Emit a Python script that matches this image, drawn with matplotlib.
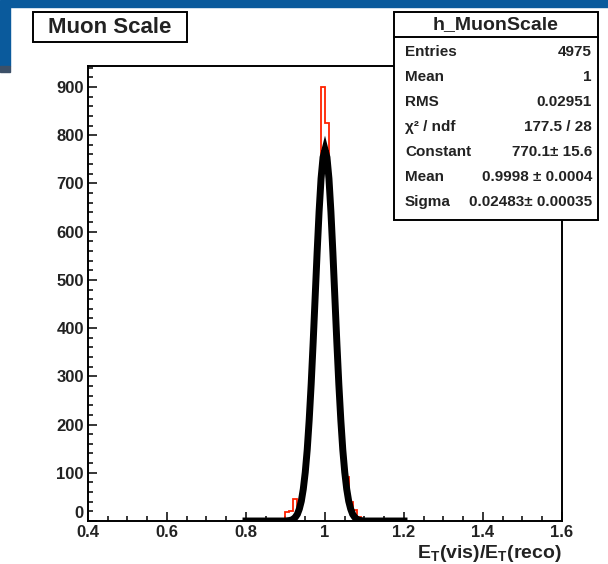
import numpy as np
import matplotlib
matplotlib.use("Agg")
import matplotlib.pyplot as plt
from matplotlib.patches import Rectangle

plt.rcParams['font.family'] = ['Liberation Sans', 'DejaVu Sans']
plt.rcParams['font.weight'] = 'bold'
plt.rcParams['mathtext.fontset'] = 'custom'
plt.rcParams['mathtext.rm'] = 'Liberation Sans:bold'
plt.rcParams['mathtext.bf'] = 'Liberation Sans:bold'

# histogram h_MuonScale, bins of 0.01 starting at 0.85
bin_low = 0.85
bin_width = 0.01
counts = [1, 0, 1, 2, 4, 18, 20, 45, 25, 66, 148, 284, 463, 641, 900,
          826, 641, 463, 284, 148, 92, 40, 22, 8, 3, 1, 0, 1, 0, 0]

# gaussian fit curve (drawn over the fit range 0.8 - 1.2)
fit_x = [0.80, 0.85, 0.90, 0.905, 0.91, 0.915, 0.92, 0.925, 0.93, 0.935,
         0.94, 0.945, 0.95, 0.955, 0.96, 0.965, 0.97, 0.975, 0.98, 0.985,
         0.99, 0.995, 1.00, 1.005, 1.01, 1.015, 1.02, 1.025, 1.03, 1.035,
         1.04, 1.045, 1.05, 1.055, 1.06, 1.065, 1.07, 1.075, 1.08, 1.085,
         1.09, 1.095, 1.10, 1.15, 1.20]
fit_y = [0, 0, 0, 0.5, 1, 2, 4, 8, 14, 25,
         41, 66, 101, 148, 210, 284, 370, 463, 556, 641,
         710, 754, 770, 754, 710, 641, 556, 463, 370, 284,
         210, 148, 101, 66, 41, 25, 14, 8, 4, 2,
         1, 0.5, 0, 0, 0]

stat_labels = ["Entries", "Mean", "RMS", "\u03c7\u00b2 / ndf", "Constant", "Mean", "Sigma"]
stat_values = ["4975", "1", "0.02951", "177.5 / 28", "770.1\u00b1 15.6",
               "0.9998 \u00b1 0.0004", "0.02483\u00b1 0.00035"]

W, H = 608, 564
fig = plt.figure(figsize=(W / 100, H / 100), dpi=100)


def fx(x):
    return x / W


def fy(y):
    return 1 - y / H


# slide background bits
fig.patches.append(Rectangle((0, fy(7)), 1, 7 / H, transform=fig.transFigure,
                             color='#0a5a9c', zorder=0))
fig.patches.append(Rectangle((0, fy(66)), fx(10), 59 / H, transform=fig.transFigure,
                             color='#0a5a9c', zorder=0))
fig.patches.append(Rectangle((0, fy(72)), fx(10), 6 / H, transform=fig.transFigure,
                             color='#3c5068', zorder=0))

ax = fig.add_axes([fx(88), fy(521), (562 - 88) / W, (521 - 66) / H])

edges = bin_low + bin_width * np.arange(len(counts) + 1)
ax.stairs(counts, edges, color='#ff2200', linewidth=1.3, zorder=2)
ax.plot(fit_x, fit_y, color='black', linewidth=5, zorder=3,
        solid_joinstyle='miter')

ax.set_xlim(0.4, 1.6)
ax.set_ylim(0, 943.5)
ax.set_xticks(np.arange(0.4, 1.61, 0.2))
ax.set_xticks(np.arange(0.4, 1.61, 0.05), minor=True)
ax.set_yticks(np.arange(0, 901, 100))
ax.set_yticks(np.arange(0, 941, 20), minor=True)
ax.set_xticklabels(["0.4", "0.6", "0.8", "1", "1.2", "1.4", "1.6"])
ax.tick_params(which='both', direction='in', width=1.1, labelsize=12, colors='black')
ax.tick_params(which='major', length=6.5)
ax.tick_params(which='minor', length=3.5)
ax.tick_params(axis='x', pad=3)
ax.tick_params(axis='y', pad=3)
for lab in ax.get_xticklabels() + ax.get_yticklabels():
    lab.set_fontweight('bold')
    lab.set_color('#222222')
# the zero label sits a little high so it clears 0.4 below it
ax.get_yticklabels()[0].set_verticalalignment('bottom')
for sp in ax.spines.values():
    sp.set_linewidth(1.4)

fig.text(fx(562), fy(558), r"E$_{\mathbf{T}}$(vis)/E$_{\mathbf{T}}$(reco)",
         ha='right', va='baseline', fontsize=14, fontweight='bold', color='#222222')

# title box
fig.patches.append(Rectangle((fx(33), fy(42)), (187 - 33) / W, 30 / H,
                             transform=fig.transFigure, fill=True, facecolor='white',
                             edgecolor='black', linewidth=1.4, zorder=5))
fig.text(fx(110), fy(27.5), "Muon Scale", ha='center', va='center',
         fontsize=16, fontweight='bold', color='#222222', zorder=6)

# stats box
bx0, bx1, by0, by1, hy = 394, 598, 12, 220, 37
fig.patches.append(Rectangle((fx(bx0), fy(by1)), (bx1 - bx0) / W, (by1 - by0) / H,
                             transform=fig.transFigure, facecolor='white',
                             edgecolor='black', linewidth=1.4, zorder=5))
fig.lines.append(plt.Line2D([fx(bx0), fx(bx1)], [fy(hy), fy(hy)],
                            transform=fig.transFigure, color='black', linewidth=1.4,
                            zorder=6))
fig.text(fx((bx0 + bx1) / 2), fy(24.5), "h_MuonScale", ha='center', va='center',
         fontsize=14, fontweight='bold', color='#222222', zorder=6)
for i, (lab, val) in enumerate(zip(stat_labels, stat_values)):
    yy = fy(52 + 25 * i)
    fig.text(fx(405), yy, lab, ha='left', va='center', fontsize=11,
             fontweight='bold', color='#222222', zorder=6)
    fig.text(fx(592), yy, val, ha='right', va='center', fontsize=11,
             fontweight='bold', color='#222222', zorder=6)

fig.savefig("out.png", dpi=100)
